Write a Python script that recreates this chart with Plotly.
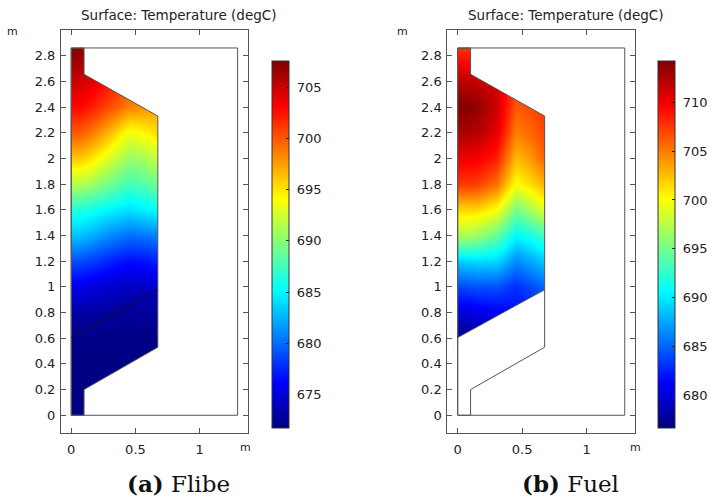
import plotly.graph_objects as go

# ---------------- data ----------------
# geometry (m)
outer_rect = [(0.0, 0.0), (1.295, 0.0), (1.295, 2.86), (0.0, 2.86)]
core_poly = [(0.0, 0.0), (0.1, 0.0), (0.1, 0.2), (0.674, 0.53), (0.674, 2.33),
             (0.1, 2.655), (0.1, 2.86), (0.0, 2.86)]
fuel_poly = [(0.0, 0.605), (0.674, 0.978), (0.674, 2.33), (0.1, 2.655),
             (0.1, 2.86), (0.0, 2.86)]

# sample grid
grid_x = [0.0, 0.06, 0.15, 0.3, 0.45, 0.56, 0.674]
flibe_y = [0.0, 0.1, 0.3, 0.5, 0.6, 0.8, 1.0, 1.2, 1.4, 1.6, 1.8, 2.0, 2.2, 2.4, 2.6, 2.75, 2.86]
flibe_T = [
    [671.8, 671.8, 671.8, 671.8, 671.8, 671.8, 671.8],
    [671.8, 671.8, 671.8, 671.8, 671.8, 671.8, 671.8],
    [671.8, 671.8, 671.8, 671.8, 671.8, 671.8, 671.8],
    [671.9, 671.9, 671.9, 671.9, 671.9, 671.9, 671.9],
    [672.1, 672.1, 672.1, 672.0, 672.0, 672.0, 672.0],
    [673.0, 673.0, 672.9, 672.7, 672.5, 672.6, 672.7],
    [675.5, 675.4, 675.1, 674.5, 674.0, 674.2, 674.5],
    [679.0, 678.9, 678.4, 677.4, 676.5, 676.8, 677.2],
    [683.0, 682.9, 682.3, 681.0, 680.0, 680.3, 680.6],
    [686.3, 686.2, 685.8, 684.8, 684.0, 684.6, 685.3],
    [691.5, 691.4, 690.8, 689.2, 687.5, 688.2, 689.0],
    [696.0, 695.9, 695.0, 692.7, 690.3, 691.0, 692.0],
    [700.0, 699.9, 699.0, 696.5, 693.5, 694.3, 695.2],
    [703.0, 702.9, 702.2, 700.5, 698.5, 698.0, 697.5],
    [705.0, 704.9, 704.2, 702.5, 700.5, 699.5, 699.0],
    [706.5, 706.3, 705.5, 704.0, 702.0, 701.0, 700.0],
    [707.4, 707.2, 706.5, 705.0, 703.0, 702.0, 701.0],
]
fuel_y = [0.5, 0.6, 0.8, 1.0, 1.2, 1.4, 1.6, 1.8, 2.0, 2.2, 2.4, 2.6, 2.75, 2.86]
fuel_T = [
    [676.8, 676.9, 677.3, 678.0, 678.6, 679.1, 679.6],
    [677.0, 677.1, 677.6, 678.3, 678.9, 679.4, 679.9],
    [680.0, 680.1, 680.5, 681.0, 681.7, 682.2, 682.7],
    [684.0, 684.1, 684.3, 684.3, 683.0, 684.0, 685.0],
    [689.0, 689.2, 689.5, 689.3, 686.5, 687.5, 689.0],
    [697.0, 696.9, 696.3, 694.3, 690.5, 691.5, 693.0],
    [701.5, 701.5, 701.5, 699.8, 695.0, 696.8, 699.0],
    [707.5, 707.5, 707.3, 705.3, 700.0, 701.3, 703.0],
    [710.0, 710.0, 709.8, 708.3, 702.5, 703.8, 706.0],
    [712.5, 712.5, 712.2, 710.3, 704.8, 705.7, 707.0],
    [714.0, 713.9, 713.5, 711.3, 706.2, 706.6, 707.5],
    [712.0, 711.9, 711.6, 711.0, 707.0, 707.0, 707.5],
    [709.5, 709.4, 709.2, 709.0, 707.0, 707.0, 707.0],
    [707.7, 707.6, 707.5, 708.0, 707.0, 707.0, 707.0],
]
flibe_range = [671.7, 707.6]
fuel_range = [676.7, 714.2]
flibe_cticks = [675, 680, 685, 690, 695, 700, 705]
fuel_cticks = [680, 685, 690, 695, 700, 705, 710]
y_ticks = [0, 0.2, 0.4, 0.6, 0.8, 1, 1.2, 1.4, 1.6, 1.8, 2, 2.2, 2.4, 2.6, 2.8]
y_ticklabels = ["0", "0.2", "0.4", "0.6", "0.8", "1", "1.2", "1.4", "1.6", "1.8",
                "2", "2.2", "2.4", "2.6", "2.8"]
x_ticks = [0, 0.5, 1]
x_ticklabels = ["0", "0.5", "1"]
title_text = "Surface: Temperature (degC)"
captions = [("a", "Flibe"), ("b", "Fuel")]

# ---------------- figure ----------------
W, H = 711, 503
def px(x): return x / W
def py(y): return 1 - y / H

jet = [[0, "#00007f"], [0.125, "#0000ff"], [0.375, "#00ffff"],
       [0.625, "#ffff00"], [0.875, "#ff0000"], [1, "#7f0000"]]
FONT = "DejaVu Sans"
LINE = "#555555"

fig = go.Figure()

def cbar(xpos, ticks):
    return dict(x=px(xpos), xanchor="left", y=py(244.5), yanchor="middle",
                lenmode="pixels", len=367, thickness=17, xpad=0, ypad=0,
                outlinewidth=1, outlinecolor="#333333", borderwidth=0,
                tickvals=ticks, ticktext=["\u00a0" + str(t) for t in ticks],
                ticks="inside", ticklen=3, tickcolor="#222",
                tickfont=dict(family=FONT, size=13, color="#222"))

fig.add_trace(go.Heatmap(x=grid_x, y=flibe_y, z=flibe_T, zsmooth="best",
                         colorscale=jet, zmin=flibe_range[0], zmax=flibe_range[1],
                         colorbar=cbar(272, flibe_cticks), hoverinfo="skip",
                         xaxis="x", yaxis="y"))
fig.add_trace(go.Heatmap(x=grid_x, y=fuel_y, z=fuel_T, zsmooth="best",
                         colorscale=jet, zmin=fuel_range[0], zmax=fuel_range[1],
                         colorbar=cbar(658.3, fuel_cticks), hoverinfo="skip",
                         xaxis="x2", yaxis="y2"))

def poly_path(pts):
    return "M " + " L ".join(f"{x},{y}" for x, y in pts) + " Z"

mask_box = [(-0.035, -0.055), (0.75, -0.055), (0.75, 2.93), (-0.035, 2.93)]
shapes = []
for xr, yr, region in [("x", "y", core_poly), ("x2", "y2", fuel_poly)]:
    shapes.append(dict(type="path", xref=xr, yref=yr, layer="above",
                       path=poly_path(mask_box) + " " + poly_path(region),
                       fillrule="evenodd", fillcolor="white", line=dict(width=0)))
    shapes.append(dict(type="path", xref=xr, yref=yr, layer="above",
                       path=poly_path(outer_rect), line=dict(color=LINE, width=1)))
    shapes.append(dict(type="path", xref=xr, yref=yr, layer="above",
                       path=poly_path(core_poly), line=dict(color=LINE, width=1)))
# fuel / lower interface line
shapes.append(dict(type="line", xref="x", yref="y", layer="above",
                   x0=fuel_poly[0][0], y0=fuel_poly[0][1], x1=fuel_poly[1][0], y1=fuel_poly[1][1],
                   line=dict(color="#111111", width=1)))
shapes.append(dict(type="line", xref="x2", yref="y2", layer="above",
                   x0=fuel_poly[0][0], y0=fuel_poly[0][1], x1=fuel_poly[1][0], y1=fuel_poly[1][1],
                   line=dict(color=LINE, width=1)))

def xax(dom):
    return dict(domain=dom, range=[-0.08, 1.373], tickvals=x_ticks, ticktext=x_ticklabels,
                ticks="inside", ticklen=5, tickcolor=LINE, showline=True, linecolor=LINE,
                linewidth=1, mirror="ticks", showgrid=False, zeroline=False,
                ticklabelstandoff=4,
                tickfont=dict(family=FONT, size=13, color="#222"), fixedrange=True)

def yax(anchor):
    return dict(domain=[py(433), py(30)], range=[-0.138, 3.0], anchor=anchor,
                tickvals=y_ticks, ticktext=y_ticklabels,
                ticks="inside", ticklen=5, tickcolor=LINE, showline=True, linecolor=LINE,
                linewidth=1, mirror="ticks", showgrid=False, zeroline=False,
                ticklabelstandoff=2,
                tickfont=dict(family=FONT, size=13, color="#222"), fixedrange=True)

ann = []
for cx in (179, 566):
    ann.append(dict(text=title_text, x=px(cx), y=py(15), xref="paper", yref="paper",
                    xanchor="center", yanchor="middle", showarrow=False,
                    font=dict(family=FONT, size=13.5, color="#222")))
for mx, my in [(13, 31), (246, 447), (403, 31), (636, 447)]:
    ann.append(dict(text="m", x=px(mx), y=py(my), xref="paper", yref="paper",
                    xanchor="center", yanchor="middle", showarrow=False,
                    font=dict(family=FONT, size=11, color="#222")))
for (lab, name), cx in zip(captions, (179, 571)):
    ann.append(dict(text=f"<b>({lab})</b> {name}", x=px(cx), y=py(483),
                    xref="paper", yref="paper", xanchor="center", yanchor="middle",
                    showarrow=False,
                    font=dict(family="DejaVu Serif", size=23, color="#111")))

fig.update_layout(
    width=W, height=H, margin=dict(l=0, r=0, t=0, b=0),
    paper_bgcolor="white", plot_bgcolor="white", showlegend=False,
    xaxis=xax([px(61), px(248)]), yaxis=yax("x"),
    xaxis2=xax([px(448), px(635.7)]), yaxis2=yax("x2"),
    shapes=shapes, annotations=ann,
)
fig.update_layout(xaxis2=dict(anchor="y2"))

fig.write_html("out.html")
